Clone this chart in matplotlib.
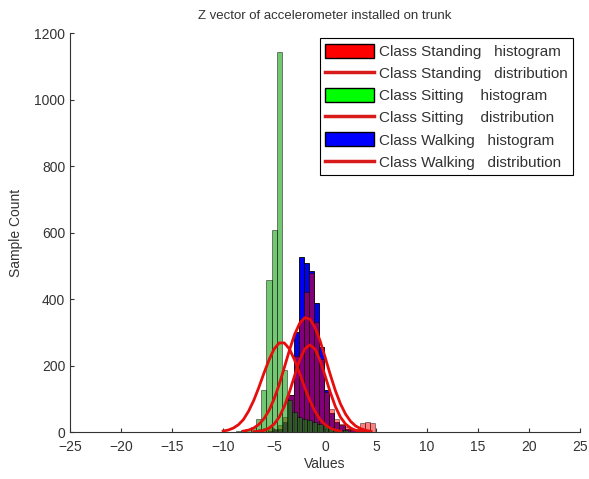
import matplotlib
matplotlib.use("Agg")
import matplotlib.pyplot as plt
from matplotlib.patches import Patch
from matplotlib.lines import Line2D

plt.rcParams['font.family'] = ['Liberation Sans', 'DejaVu Sans']

# ---------------------------------------------------------------------------
# Histogram data (bin centres / counts)
# ---------------------------------------------------------------------------
walk_x = [-5.35, -4.85, -4.35, -3.85, -3.35, -2.85, -2.35, -1.85, -1.35, -0.85,
          -0.35, 0.15, 0.65, 1.15, 1.65, 2.15, 2.65]
walk_n = [3, 5, 8, 30, 110, 300, 527, 507, 485, 388,
          256, 126, 57, 31, 20, 10, 5]

stand_x = [-6.85, -6.35, -5.85, -5.35, -4.85, -4.35, -3.85, -3.35, -2.85, -2.35,
           -1.85, -1.35, -0.85, -0.35, 0.15, 0.65, 1.15, 1.65, 2.15, 2.65,
           3.15, 3.65, 4.15, 4.65]
stand_n = [5, 8, 12, 15, 10, 20, 45, 110, 230, 340,
           420, 478, 330, 220, 120, 70, 40, 25, 15, 10,
           8, 28, 30, 28]

sit_x = [-8.5, -8.0, -7.5, -7.0, -6.5, -6.0, -5.5, -5.0, -4.5, -4.0,
         -3.5, -3.0, -2.5, -2.0, -1.5, -1.0, -0.5, 0.0, 0.5, 1.0,
         1.5, 2.0]
sit_n = [3, 5, 8, 15, 38, 126, 457, 607, 1144, 186,
         95, 60, 45, 40, 35, 30, 25, 20, 14, 10,
         7, 5]

# fitted distribution curves
sit_cx = [-10, -9.5, -9, -8.5, -8, -7.5, -7, -6.5, -6, -5.5, -5, -4.5, -4,
          -3.5, -3, -2.5, -2, -1.5, -1, -0.5, 0, 0.5, 1, 1.5]
sit_cy = [3, 6, 12, 22, 38, 63, 95, 134, 177, 217, 250, 268, 268,
          250, 217, 177, 134, 95, 63, 38, 22, 12, 6, 3]

stand_cx = [-8, -7.5, -7, -6.5, -6, -5.5, -5, -4.5, -4, -3.5, -3, -2.5, -2,
            -1.5, -1, -0.5, 0, 0.5, 1, 1.5, 2, 2.5, 3, 3.5, 4, 4.5]
stand_cy = [3, 6, 12, 23, 40, 65, 100, 143, 194, 246, 293, 327, 344,
            340, 315, 275, 225, 173, 125, 85, 54, 32, 18, 10, 5, 2]

walk_cx = [-7, -6.5, -6, -5.5, -5, -4.5, -4, -3.5, -3, -2.5, -2, -1.5, -1,
           -0.5, 0, 0.5, 1, 1.5, 2, 2.5, 3, 3.5, 4]
walk_cy = [1, 2, 5, 12, 24, 45, 77, 120, 169, 216, 250, 262, 250,
           216, 169, 120, 77, 45, 24, 12, 5, 2, 1]

labels = ["Class Standing   histogram", "Class Standing   distribution",
          "Class Sitting    histogram", "Class Sitting    distribution",
          "Class Walking   histogram", "Class Walking   distribution"]

fig = plt.figure(figsize=(5.89, 4.79), dpi=100)
ax = fig.add_axes([0.119, 0.098, 0.866, 0.833])

ax.bar(walk_x, walk_n, width=0.5, color=(0, 0, 0.95), edgecolor='black', linewidth=0.6)
ax.bar(stand_x, stand_n, width=0.5, color=(1, 0, 0), alpha=0.5, edgecolor='black', linewidth=0.6)
ax.bar(sit_x, sit_n, width=0.5, color=(0, 0.6, 0), alpha=0.55, edgecolor='black', linewidth=0.6)

for cx, cy in [(sit_cx, sit_cy), (stand_cx, stand_cy), (walk_cx, walk_cy)]:
    ax.plot(cx, cy, color=(0.9, 0.05, 0.05), linewidth=2)

ax.set_xlim(-25, 25)
ax.set_ylim(0, 1200)
ax.set_xticks(range(-25, 26, 5))
ax.set_yticks(range(0, 1201, 200))
ax.tick_params(direction='in', length=3, labelsize=10, colors='#333333')
ax.tick_params(axis='x', pad=6)
for sp in ('top', 'right'):
    ax.spines[sp].set_visible(False)
for sp in ('left', 'bottom'):
    ax.spines[sp].set_color('#333333')

ax.set_title("Z vector of accelerometer installed on trunk", fontsize=9.5, pad=10, color='#333333')
ax.set_xlabel("Values", fontsize=10, color='#333333', labelpad=2)
ax.set_ylabel("Sample Count", fontsize=10, color='#333333', labelpad=8)

handles = [Patch(facecolor='red', edgecolor='black'),
           Line2D([], [], color=(0.85, 0.1, 0.1), linewidth=2.5),
           Patch(facecolor=(0, 1, 0), edgecolor='black'),
           Line2D([], [], color=(0.85, 0.1, 0.1), linewidth=2.5),
           Patch(facecolor=(0, 0, 1), edgecolor='black'),
           Line2D([], [], color=(0.85, 0.1, 0.1), linewidth=2.5)]
leg = ax.legend(handles, labels, loc='upper right', bbox_to_anchor=(0.986, 0.987),
                borderaxespad=0, fontsize=11, handlelength=3.2, handleheight=1.05,
                labelspacing=0.45, handletextpad=0.3, borderpad=0.35,
                fancybox=False, framealpha=1, edgecolor='black')
leg.get_frame().set_linewidth(0.8)
for t in leg.get_texts():
    t.set_color('#333333')

fig.savefig("out.png", dpi=100)
